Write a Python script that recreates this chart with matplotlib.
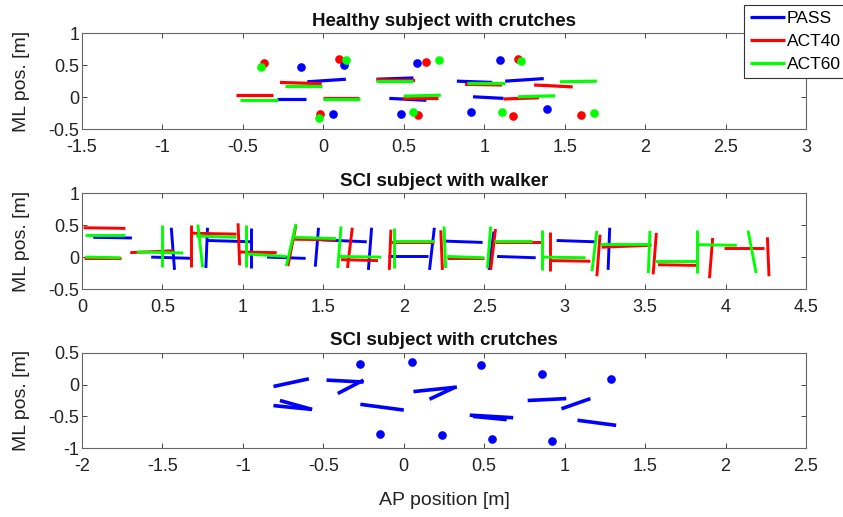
import matplotlib
matplotlib.use("Agg")
import matplotlib.pyplot as plt
from matplotlib.ticker import FuncFormatter, MultipleLocator

plt.rcParams['font.family'] = ['Liberation Sans', 'DejaVu Sans']
plt.rcParams['axes.unicode_minus'] = False

series_names = ["PASS", "ACT40", "ACT60"]
series_colors = ["#0000ff", "#ff0000", "#00ff00"]

# ---- Healthy subject with crutches: foot segments (x0, x1, y0, y1) and crutch tips ----
healthy_pass_steps = [(-0.29, -0.11, -0.03, -0.03), (-0.10, 0.14, 0.24, 0.28),
                      (0.33, 0.56, 0.28, 0.30), (0.41, 0.64, -0.02, -0.05),
                      (0.83, 1.05, 0.25, 0.23), (0.93, 1.12, 0.005, -0.02),
                      (1.13, 1.37, 0.25, 0.29)]
healthy_pass_tips_x = [-0.14, 0.13, 0.58, 1.10, 0.06, 0.48, 0.92, 1.39]
healthy_pass_tips_y = [0.47, 0.51, 0.54, 0.58, -0.27, -0.27, -0.24, -0.19]

healthy_act40_steps = [(-0.54, -0.31, 0.04, 0.04), (-0.27, -0.01, 0.23, 0.21),
                       (0.00, 0.22, -0.01, -0.01), (0.33, 0.57, 0.27, 0.26),
                       (0.49, 0.71, -0.01, -0.01), (0.88, 1.11, 0.20, 0.19),
                       (1.12, 1.34, -0.03, -0.01), (1.31, 1.55, 0.19, 0.16)]
healthy_act40_tips_x = [-0.37, 0.10, 0.64, 1.21, -0.02, 0.59, 1.18, 1.60]
healthy_act40_tips_y = [0.53, 0.59, 0.55, 0.59, -0.27, -0.28, -0.29, -0.28]

healthy_act60_steps = [(-0.52, -0.28, -0.04, -0.04), (-0.24, -0.01, 0.18, 0.18),
                       (0.00, 0.23, -0.03, -0.03), (0.33, 0.56, 0.25, 0.25),
                       (0.50, 0.73, 0.015, 0.03), (0.89, 1.13, 0.22, 0.22),
                       (1.21, 1.44, 0.005, 0.02), (1.47, 1.70, 0.24, 0.25)]
healthy_act60_tips_x = [-0.39, 0.14, 0.72, 1.23, -0.03, 0.56, 1.11, 1.68]
healthy_act60_tips_y = [0.47, 0.58, 0.58, 0.57, -0.32, -0.23, -0.24, -0.245]

# ---- SCI subject with walker: foot segments and walker frame segments ----
walker_pass_steps = [(0.07, 0.31, 0.31, 0.30), (0.43, 0.69, 0.00, -0.02),
                     (0.78, 1.06, 0.26, 0.24), (1.15, 1.39, 0.00, -0.02),
                     (1.49, 1.77, 0.27, 0.24), (1.90, 2.15, 0.01, 0.01),
                     (2.26, 2.49, 0.25, 0.23), (2.58, 2.82, 0.01, -0.01),
                     (2.95, 3.19, 0.26, 0.24)]
walker_pass_frame = [(0.555, 0.575, 0.46, -0.20), (0.78, 0.77, 0.46, -0.17),
                     (1.05, 1.05, 0.46, -0.17), (1.47, 1.45, 0.46, -0.15),
                     (1.80, 1.78, 0.46, -0.20), (2.19, 2.16, 0.46, -0.20),
                     (2.56, 2.53, 0.40, -0.20), (3.28, 3.27, 0.46, -0.20)]

walker_act40_steps = [(0.01, 0.27, 0.46, 0.45), (0.01, 0.24, -0.02, -0.02),
                      (0.30, 0.57, 0.07, 0.10), (0.68, 0.96, 0.375, 0.36),
                      (0.97, 1.21, 0.08, 0.07), (1.32, 1.58, 0.28, 0.27),
                      (1.61, 1.84, -0.04, -0.055), (1.92, 2.19, 0.23, 0.23),
                      (2.27, 2.50, -0.02, -0.02), (2.57, 2.85, 0.24, 0.24),
                      (2.91, 3.16, -0.055, -0.065), (3.23, 3.54, 0.155, 0.185),
                      (3.58, 3.82, -0.12, -0.13), (3.99, 4.24, 0.145, 0.145)]
walker_act40_frame = [(0.68, 0.68, 0.50, -0.15), (0.97, 0.98, 0.53, -0.13),
                      (1.33, 1.28, 0.50, -0.14), (1.68, 1.65, 0.46, -0.17),
                      (1.92, 1.91, 0.43, -0.20), (2.23, 2.24, 0.42, -0.20),
                      (2.57, 2.54, 0.44, -0.20), (2.91, 2.91, 0.39, -0.22),
                      (3.22, 3.20, 0.35, -0.30), (3.57, 3.55, 0.38, -0.27),
                      (3.92, 3.90, 0.30, -0.33), (4.26, 4.27, 0.31, -0.30)]

walker_act60_steps = [(0.02, 0.27, 0.35, 0.35), (0.02, 0.24, 0.00, -0.01),
                      (0.34, 0.63, 0.08, 0.065), (0.71, 0.96, 0.33, 0.31),
                      (1.02, 1.27, 0.05, 0.01), (1.32, 1.58, 0.31, 0.29),
                      (1.60, 1.86, 0.01, 0.00), (1.93, 2.19, 0.25, 0.25),
                      (2.27, 2.50, 0.01, -0.01), (2.56, 2.80, 0.25, 0.25),
                      (2.87, 3.13, 0.00, -0.01), (3.22, 3.52, 0.21, 0.21),
                      (3.56, 3.82, -0.055, -0.055), (3.82, 4.07, 0.195, 0.185)]
walker_act60_frame = [(0.50, 0.50, 0.51, -0.15), (0.72, 0.75, 0.51, -0.16),
                      (1.02, 1.02, 0.50, -0.15), (1.33, 1.27, 0.52, -0.14),
                      (1.61, 1.59, 0.48, -0.17), (1.94, 1.94, 0.46, -0.17),
                      (2.25, 2.26, 0.48, -0.17), (2.54, 2.52, 0.48, -0.17),
                      (2.86, 2.86, 0.43, -0.20), (3.20, 3.17, 0.41, -0.22),
                      (3.53, 3.52, 0.41, -0.25), (3.82, 3.82, 0.43, -0.25),
                      (4.14, 4.19, 0.415, -0.25)]

# ---- SCI subject with crutches (PASS only) ----
sci_pass_steps = [(-0.81, -0.59, -0.03, 0.09), (-0.81, -0.57, -0.33, -0.39),
                  (-0.77, -0.57, -0.25, -0.39), (-0.48, -0.25, 0.07, 0.04),
                  (-0.41, -0.25, -0.14, 0.07), (-0.27, 0.00, -0.31, -0.40),
                  (0.06, 0.33, -0.11, -0.04), (0.16, 0.32, -0.23, -0.04),
                  (0.41, 0.68, -0.48, -0.52), (0.43, 0.64, -0.50, -0.55),
                  (0.77, 1.01, -0.25, -0.22), (0.98, 1.16, -0.38, -0.22),
                  (1.08, 1.32, -0.56, -0.64)]
sci_pass_tips_x = [-0.27, 0.05, 0.48, 0.86, 1.29, -0.15, 0.24, 0.55, 0.92]
sci_pass_tips_y = [0.32, 0.35, 0.31, 0.17, 0.08, -0.77, -0.79, -0.86, -0.89]

panel_titles = ["Healthy subject with crutches", "SCI subject with walker",
                "SCI subject with crutches"]
panel_xlims = [(-1.5, 3.0), (0.0, 4.5), (-2.0, 2.5)]
panel_ylims = [(-0.5, 1.0), (-0.5, 1.0), (-1.0, 0.5)]

W, H = 843, 517
fig = plt.figure(figsize=(W / 100, H / 100), dpi=100)

def px_axes(left, top, right, bottom):
    return fig.add_axes([left / W, 1 - bottom / H, (right - left) / W, (bottom - top) / H])

axes = [px_axes(82, 33.3, 806, 129),
        px_axes(82, 193.3, 806, 289),
        px_axes(82, 352.7, 806, 448.3)]

LW = 2.3
MS = 5.2

def draw_segments(ax, segs, color, lw=LW):
    handle = None
    for x0, x1, y0, y1 in segs:
        h, = ax.plot([x0, x1], [y0, y1], color=color, lw=lw, solid_capstyle='butt')
        if handle is None:
            handle = h
    return handle

def draw_tips(ax, xs, ys, color):
    ax.plot(xs, ys, 'o', color=color, ms=MS, mec=color)

# Panel 1
ax = axes[0]
handles = []
for steps, tx, ty, c in [
        (healthy_pass_steps, healthy_pass_tips_x, healthy_pass_tips_y, series_colors[0]),
        (healthy_act40_steps, healthy_act40_tips_x, healthy_act40_tips_y, series_colors[1]),
        (healthy_act60_steps, healthy_act60_tips_x, healthy_act60_tips_y, series_colors[2])]:
    handles.append(draw_segments(ax, steps, c))
    draw_tips(ax, tx, ty, c)

# Panel 2
ax = axes[1]
for steps, frame, c in [
        (walker_pass_steps, walker_pass_frame, series_colors[0]),
        (walker_act40_steps, walker_act40_frame, series_colors[1]),
        (walker_act60_steps, walker_act60_frame, series_colors[2])]:
    draw_segments(ax, steps, c, lw=2.1)
    draw_segments(ax, frame, c, lw=2.1)

# Panel 3
ax = axes[2]
draw_segments(ax, sci_pass_steps, series_colors[0], lw=2.6)
draw_tips(ax, sci_pass_tips_x, sci_pass_tips_y, series_colors[0])

fmt = FuncFormatter(lambda v, p: f"{v:g}")
for ax, title, xl, yl in zip(axes, panel_titles, panel_xlims, panel_ylims):
    ax.set_xlim(*xl)
    ax.set_ylim(*yl)
    ax.xaxis.set_major_locator(MultipleLocator(0.5))
    ax.yaxis.set_major_locator(MultipleLocator(0.5))
    ax.xaxis.set_major_formatter(fmt)
    ax.yaxis.set_major_formatter(fmt)
    ax.set_title(title, fontsize=13.5, fontweight='bold', pad=5.5, color='#111111')
    ax.set_ylabel("ML pos. [m]", fontsize=14, color='#222222')
    ax.yaxis.set_label_coords(-0.072, 0.5)
    ax.tick_params(direction='in', top=True, right=True, length=3.5, width=0.7,
                   labelsize=13, colors='#444444', labelcolor='#222222')
    ax.tick_params(axis='x', pad=7)
    ax.tick_params(axis='y', pad=2)
    for s in ax.spines.values():
        s.set_color('#666666')
        s.set_linewidth(0.8)

axes[2].set_xlabel("AP position [m]", fontsize=14, color='#222222', labelpad=12)

leg = fig.legend(handles, series_names, loc='upper left',
                 bbox_to_anchor=(744 / W, 1 - 5 / H), fontsize=12.5,
                 handlelength=2.0, handletextpad=0.1, labelspacing=0.45,
                 borderpad=0.35, borderaxespad=0.0, fancybox=False, framealpha=1)
leg.get_frame().set_edgecolor('#333333')
leg.get_frame().set_linewidth(0.8)
for line in leg.get_lines():
    line.set_linewidth(2.3)

fig.savefig("out.png", dpi=100)
